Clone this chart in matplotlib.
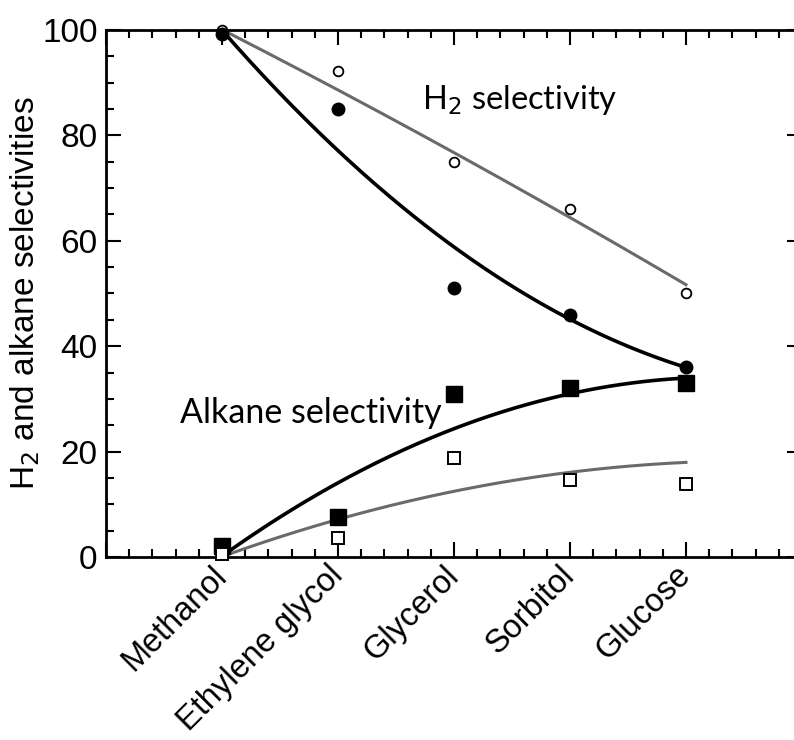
import numpy as np
import matplotlib
matplotlib.use("Agg")
import matplotlib.pyplot as plt
from matplotlib.ticker import MultipleLocator

# categories (positions 1..5 on the x axis)
feeds = ["Methanol", "Ethylene glycol", "Glycerol", "Sorbitol", "Glucose"]

# measured points
h2_filled = [99.3, 85, 51, 46, 36]
h2_open = [100, 92.3, 75, 66, 50]
alk_filled = [2, 7.5, 31, 32, 33]
alk_open = [0.5, 3.6, 18.8, 14.7, 13.8]

# trend curves, read at each feed
h2_black_fit = [100, 77, 59, 45, 36]
h2_grey_fit = [100, 89, 76, 65, 51.5]
alk_black_fit = [0, 14.5, 24, 31, 34]
alk_grey_fit = [0, 7.3, 12.4, 16, 18]

plt.rcParams['font.family'] = ['Liberation Sans', 'DejaVu Sans']

fig = plt.figure(figsize=(7.94, 7.4), dpi=100)
ax = fig.add_axes([0.1335, 0.2473, 0.8765, 0.7122])

x = np.arange(1, len(feeds) + 1)
xs = np.linspace(1, len(feeds), 200)
grey = "#6a6a6a"


def trend(vals, color, lw):
    coef = np.polyfit(x, vals, 2)
    ax.plot(xs, np.polyval(coef, xs), color=color, lw=lw, zorder=2)


trend(h2_grey_fit, grey, 2.2)
trend(h2_black_fit, "black", 2.6)
trend(alk_grey_fit, grey, 2.2)
trend(alk_black_fit, "black", 2.6)

ax.plot(x, h2_open, 'o', ms=7, mfc='white', mec='black', mew=1.3, zorder=3, clip_on=False)
ax.plot(x, h2_filled, 'o', ms=9, color='black', zorder=4, clip_on=False)
ax.plot(x, alk_filled, 's', ms=11, color='black', zorder=4, clip_on=False)
ax.plot(x, alk_open, 's', ms=9, mfc='white', mec='black', mew=1.4, zorder=5, clip_on=False)

ax.set_xlim(0, 6)
ax.set_ylim(0, 100)
ax.xaxis.set_minor_locator(MultipleLocator(0.2))
ax.yaxis.set_major_locator(MultipleLocator(20))
ax.yaxis.set_minor_locator(MultipleLocator(5))
ax.set_xticks(np.arange(0, 7))
ax.set_xticklabels([""] + feeds + [""])

ax.tick_params(which='both', direction='in', top=True, right=True, width=1.5, color='black')
ax.tick_params(which='major', length=11)
ax.tick_params(which='minor', length=6)
ax.tick_params(axis='y', labelsize=24, pad=6)
ax.tick_params(axis='x', labelsize=23.5, pad=10)
for lbl in ax.get_xticklabels():
    lbl.set_rotation(45)
    lbl.set_ha('right')
    lbl.set_va('center')
    lbl.set_rotation_mode('anchor')

for s in ax.spines.values():
    s.set_linewidth(2)

ax.set_ylabel("H$_2$ and alkane selectivities", fontsize=24, labelpad=0)

fig.text(422 / 794, 1 - 100 / 740, "H$_2$ selectivity", fontsize=23.5,
         family=['Lato', 'DejaVu Sans'], va='center', ha='left')
fig.text(180 / 794, 1 - 413 / 740, "Alkane selectivity", fontsize=24.5,
         family=['Lato', 'DejaVu Sans'], va='center', ha='left')

fig.savefig("out.png", dpi=100)
